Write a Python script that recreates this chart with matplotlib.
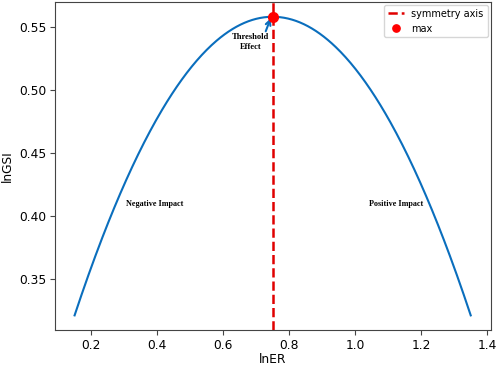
import numpy as np
import matplotlib
matplotlib.use("Agg")
import matplotlib.pyplot as plt

# Fitted quadratic lnGSI = a*lnER^2 + b*lnER + c
quad_a = -0.657
vertex_x = 0.75
vertex_y = 0.558
coef = [quad_a, -2 * quad_a * vertex_x, vertex_y + quad_a * vertex_x ** 2]
x_range = [0.15, 1.35]

annot_labels = ["Negative Impact", "Positive Impact"]
annot_x = [0.392, 1.124]
annot_y = [0.41, 0.41]

plt.rcParams['font.size'] = 8.8
for k in ['axes.edgecolor', 'xtick.color', 'ytick.color']:
    plt.rcParams[k] = '#444444'

fig, ax = plt.subplots(figsize=(4.98, 3.67), dpi=100)
x = np.linspace(x_range[0], x_range[1], 400)
y = np.polyval(coef, x)
ax.plot(x, y, color='#0a6ebd', lw=1.5)
ax.axvline(vertex_x, color='#e00000', ls='--', lw=1.8, label='symmetry axis')
ax.plot([vertex_x], [vertex_y], 'o', color='red', ms=7, label='max', zorder=5)

serif = ['Liberation Serif', 'DejaVu Serif']
for lab, tx, ty in zip(annot_labels, annot_x, annot_y):
    ax.text(tx, ty, lab, family=serif, fontweight='bold', fontsize=5.9,
            ha='center', va='center')

ax.text(0.683, 0.538, 'Threshold\nEffect', family=serif, fontweight='bold',
        fontsize=6.1, ha='center', va='center', linespacing=1.4)
ax.annotate('', xy=(0.744, 0.5568), xytext=(0.729, 0.5465),
            arrowprops=dict(arrowstyle='->', color='#0a6ebd', lw=1.5,
                            shrinkA=0, shrinkB=0))

ax.set_xlabel('lnER', labelpad=1, color='black')
ax.set_ylabel('lnGSI', color='black')
ax.tick_params(labelcolor='black', pad=2.5)
ax.legend(loc='upper right', fontsize=7, handlelength=1.6, markerscale=0.75,
          borderaxespad=0.3)
fig.subplots_adjust(left=0.11, right=0.985, top=0.995, bottom=0.1)
fig.savefig('out.png', dpi=100)
